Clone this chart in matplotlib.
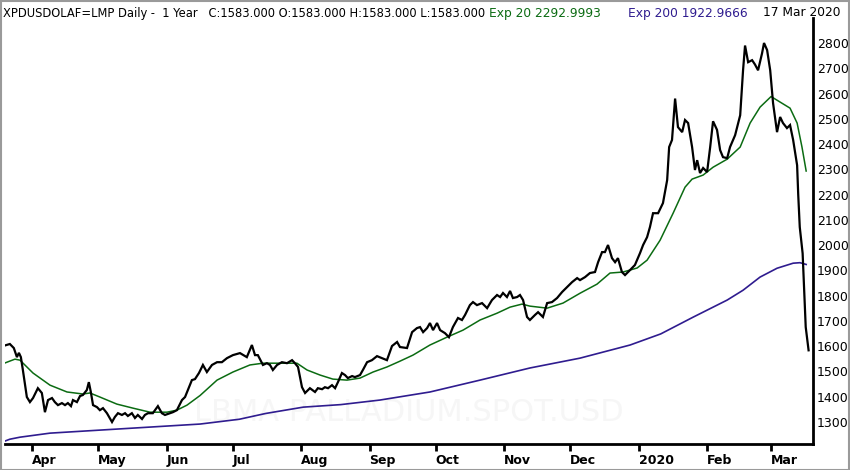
import numpy as np
import pandas as pd
import matplotlib
matplotlib.use("Agg")
import matplotlib.pyplot as plt
from matplotlib.patches import Rectangle

# ---------------- data (days counted from 2019-04-01) ----------------
price_days = [-13.1, -10.0, -8.2, -6.8, -5.9, -5.0, -4.1, -2.3, -0.9, 0.5, 2.7, 4.5, 5.9, 7.3, 9.1,
              10.4, 11.8, 13.6, 15.0, 16.3, 17.7, 18.6, 20.4, 21.8, 23.1, 24.9, 25.8, 26.7, 27.7,
              29.5, 30.8, 32.2, 34.0, 36.3, 37.6, 39.0, 40.8, 42.2, 43.5, 45.3, 46.7, 48.0, 49.9,
              51.2, 52.6, 54.8, 57.1, 58.9, 60.3, 62.6, 63.9, 65.7, 68.0, 69.4, 70.7, 72.5, 73.9,
              75.7, 77.5, 79.3, 81.6, 83.9, 86.1, 88.4, 91.1, 94.3, 97.4, 99.7, 101.1, 102.4,
              104.7, 106.5, 107.9, 109.2, 111.1, 113.3, 115.6, 117.9, 119.2, 120.6, 122.4, 123.8,
              126.0, 128.3, 129.6, 131.5, 132.8, 134.2, 136.0, 137.4, 138.7, 140.5, 141.9, 143.2,
              145.1, 146.4, 148.7, 150.0, 151.9, 154.1, 156.4, 158.7, 160.9, 163.2, 165.5, 166.8,
              170.0, 172.3, 174.5, 175.9, 177.3, 179.1, 180.4, 181.8, 183.6, 185.0, 187.2, 189.0,
              190.8, 193.1, 194.9, 196.3, 198.5, 199.9, 201.7, 204.0, 206.3, 208.5, 210.8, 212.2,
              213.5, 215.3, 216.7, 218.0, 219.9, 221.2, 222.6, 224.4, 225.7, 228.0, 229.4, 231.6,
              233.5, 235.7, 238.0, 240.3, 242.5, 244.8, 247.1, 248.4, 250.7, 252.9, 255.2, 256.6,
              258.4, 259.7, 261.1, 262.9, 264.3, 265.6, 267.4, 268.8, 271.1, 273.3, 275.6, 277.0,
              278.8, 280.1, 281.5, 283.8, 286.0, 287.9, 288.8, 290.1, 291.5, 292.8, 294.7, 296.0,
              297.4, 299.2, 300.5, 301.5, 302.8, 304.2, 306.0, 307.4, 308.7, 310.5, 311.9, 313.2,
              315.1, 316.4, 318.7, 321.0, 322.3, 323.2, 324.6, 326.4, 327.7, 329.1, 330.9, 331.8,
              333.2, 334.6, 335.9, 337.7, 339.1, 340.4, 342.2, 343.6, 345.0, 346.8, 347.3, 348.0,
              349.3, 350.7, 352.0]
price_vals = [1600, 1608, 1592, 1556, 1573, 1556, 1505, 1398, 1378, 1394, 1433, 1414, 1338, 1386, 1394,
              1378, 1366, 1374, 1366, 1374, 1362, 1386, 1378, 1402, 1406, 1426, 1457, 1418, 1366,
              1358, 1346, 1354, 1334, 1299, 1319, 1334, 1327, 1334, 1323, 1334, 1315, 1327, 1311,
              1327, 1334, 1334, 1362, 1334, 1327, 1334, 1338, 1346, 1386, 1398, 1426, 1465, 1469,
              1493, 1525, 1497, 1525, 1536, 1536, 1552, 1564, 1572, 1556, 1604, 1564, 1564,
              1525, 1532, 1525, 1505, 1525, 1536, 1532, 1544, 1532, 1517, 1437, 1414,
              1433, 1418, 1433, 1429, 1437, 1433, 1445, 1433, 1457, 1493, 1485, 1473,
              1481, 1477, 1485, 1505, 1536, 1544, 1560, 1552, 1544, 1600, 1616, 1596,
              1592, 1655, 1671, 1675, 1655, 1671, 1691, 1663, 1691, 1663, 1651, 1635,
              1675, 1711, 1703, 1723, 1762, 1774, 1762, 1770, 1750, 1782, 1802, 1794,
              1810, 1794, 1818, 1790, 1794, 1802, 1782, 1715, 1703, 1723, 1734, 1715,
              1770, 1774, 1790, 1814, 1833, 1853, 1869, 1861, 1873, 1889, 1893, 1932,
              1972, 1972, 2000, 1948, 1932, 1948, 1893, 1881, 1901, 1921, 1968, 2000,
              2031, 2071, 2126, 2126, 2166, 2257, 2388, 2416, 2580, 2467, 2447, 2495,
              2483, 2388, 2297, 2336, 2285, 2305, 2289, 2388, 2490, 2456, 2376, 2348,
              2344, 2388, 2435, 2514, 2692, 2790, 2724, 2732, 2715, 2692, 2759, 2800,
              2772, 2692, 2562, 2447, 2507, 2483, 2463, 2475, 2416, 2316, 2200, 2071,
              1967, 1675, 1583]

ema20_days = [-14.5, -11.3, -7.7, -5.4, 0.5, 8.2, 15.9, 23.1, 26.3, 30.8, 38.5, 45.8, 53.5, 61.2,
              65.7, 70.3, 76.2, 83.9, 91.1, 98.8, 104.7, 113.8, 120.1, 124.7, 130.6, 136.4, 142.8,
              148.7, 154.6, 160.9, 166.8, 172.7, 180.4, 188.1, 195.4, 203.1, 210.8, 216.7, 222.1,
              225.7, 233.5, 240.7, 248.4, 256.1, 262.0, 267.9, 274.3, 278.8, 284.7, 290.6, 296.0,
              299.2, 304.2, 308.7, 315.1, 321.0, 325.5, 330.0, 335.0, 339.1, 343.6, 346.8, 349.0,
              350.9]
ema20_vals = [1525, 1536, 1548, 1544, 1493, 1445, 1418, 1410, 1414, 1398, 1370, 1354, 1338, 1338,
              1346, 1366, 1404, 1465, 1497, 1525, 1532, 1532, 1532, 1505, 1485, 1469, 1465,
              1473, 1497, 1517, 1540, 1564, 1604, 1635, 1663, 1703, 1730, 1754, 1766,
              1758, 1750, 1770, 1809, 1845, 1889, 1893, 1909, 1940, 2019, 2126, 2229,
              2261, 2277, 2308, 2340, 2388, 2483, 2546, 2588, 2566, 2542, 2483, 2388,
              2293]

ema200_days = [-14.5, -10.0, -5.4, 8.2, 30.8, 53.5, 76.2, 94.0, 106.0, 123.0, 140.0, 157.7, 180.4,
               203.1, 225.7, 248.4, 271.1, 285.0, 299.6, 315.1, 322.3, 330.0, 337.7, 345.0, 348.1,
               350.9]
ema200_vals = [1216, 1231, 1239, 1255, 1267, 1279, 1291, 1310, 1333, 1358, 1368, 1386, 1418,
               1465, 1513, 1552, 1604, 1648, 1714, 1782, 1821, 1873, 1908, 1928, 1930,
               1923]

month_ticks = ["2019-04-01", "2019-05-01", "2019-06-01", "2019-07-01", "2019-08-01", "2019-09-01",
               "2019-10-01", "2019-11-01", "2019-12-01", "2020-01-01", "2020-02-01", "2020-03-01"]
month_labels = ["Apr", "May", "Jun", "Jul", "Aug", "Sep", "Oct", "Nov", "Dec", "2020", "Feb", "Mar"]
y_ticks = list(range(1300, 2900, 100))

header_main = "XPDUSDOLAF=LMP Daily -  1 Year   C:1583.000 O:1583.000 H:1583.000 L:1583.000"
header_ema20 = "Exp 20 2292.9993"
header_ema200 = "Exp 200 1922.9666"
header_date = "17 Mar 2020"
watermark = "LBMA PALLADIUM.SPOT.USD"

# ---------------- plotting ----------------
base = pd.Timestamp("2019-04-01")
def to_dates(days):
    return base + pd.to_timedelta(np.asarray(days, dtype=float), unit="D")

GREEN = "#0b6b12"
PURPLE = "#2f1c8f"

fig = plt.figure(figsize=(8.5, 4.7), dpi=100)
fig.patch.set_facecolor("white")
ax = fig.add_axes([5 / 850, 1 - 444 / 470, (813 - 5) / 850, (444 - 18) / 470])

ax.text(0.5, 0.075, watermark, transform=ax.transAxes, ha="center", va="center",
        fontsize=22, color="#f6f6f6", zorder=0)

ax.plot(to_dates(ema200_days), ema200_vals, color=PURPLE, lw=1.2, zorder=2)
ax.plot(to_dates(ema20_days), ema20_vals, color=GREEN, lw=1.1, zorder=3)
ax.plot(to_dates(price_days), price_vals, color="black", lw=1.6, zorder=4,
        solid_joinstyle="miter")

ax.set_xlim(base - pd.Timedelta(days=12.2), base + pd.Timedelta(days=354))
ax.set_ylim(1212, 2899)

for s in ["left", "top"]:
    ax.spines[s].set_visible(False)
for s in ["bottom", "right"]:
    ax.spines[s].set_linewidth(2.0)
    ax.spines[s].set_color("black")

ax.set_xticks(pd.to_datetime(month_ticks))
ax.set_xticklabels(month_labels, ha="left", fontsize=9, fontweight="bold")
ax.tick_params(axis="x", direction="out", length=5, width=2, pad=2, colors="black")
ax.yaxis.tick_right()
ax.set_yticks(y_ticks)
ax.set_yticklabels([str(v) for v in y_ticks], fontsize=9)
ax.tick_params(axis="y", length=0, pad=3)
ax.grid(False)

# header
hy = 1 - 13 / 470
fig.text(3 / 850, hy, header_main, fontsize=8.3, color="black", va="center", ha="left")
fig.text(489 / 850, hy, header_ema20, fontsize=8.8, color=GREEN, va="center", ha="left")
fig.text(628 / 850, hy, header_ema200, fontsize=8.8, color=PURPLE, va="center", ha="left")
fig.text(763 / 850, hy, header_date, fontsize=8.8, color="black", va="center", ha="left")

fig.patches.append(Rectangle((0.5 / 850, 0.5 / 470), 848.5 / 850, 468.5 / 470, transform=fig.transFigure,
                             fill=False, edgecolor="#9a9a9a", lw=1.5))

fig.savefig("out.png", dpi=100, facecolor="white")
